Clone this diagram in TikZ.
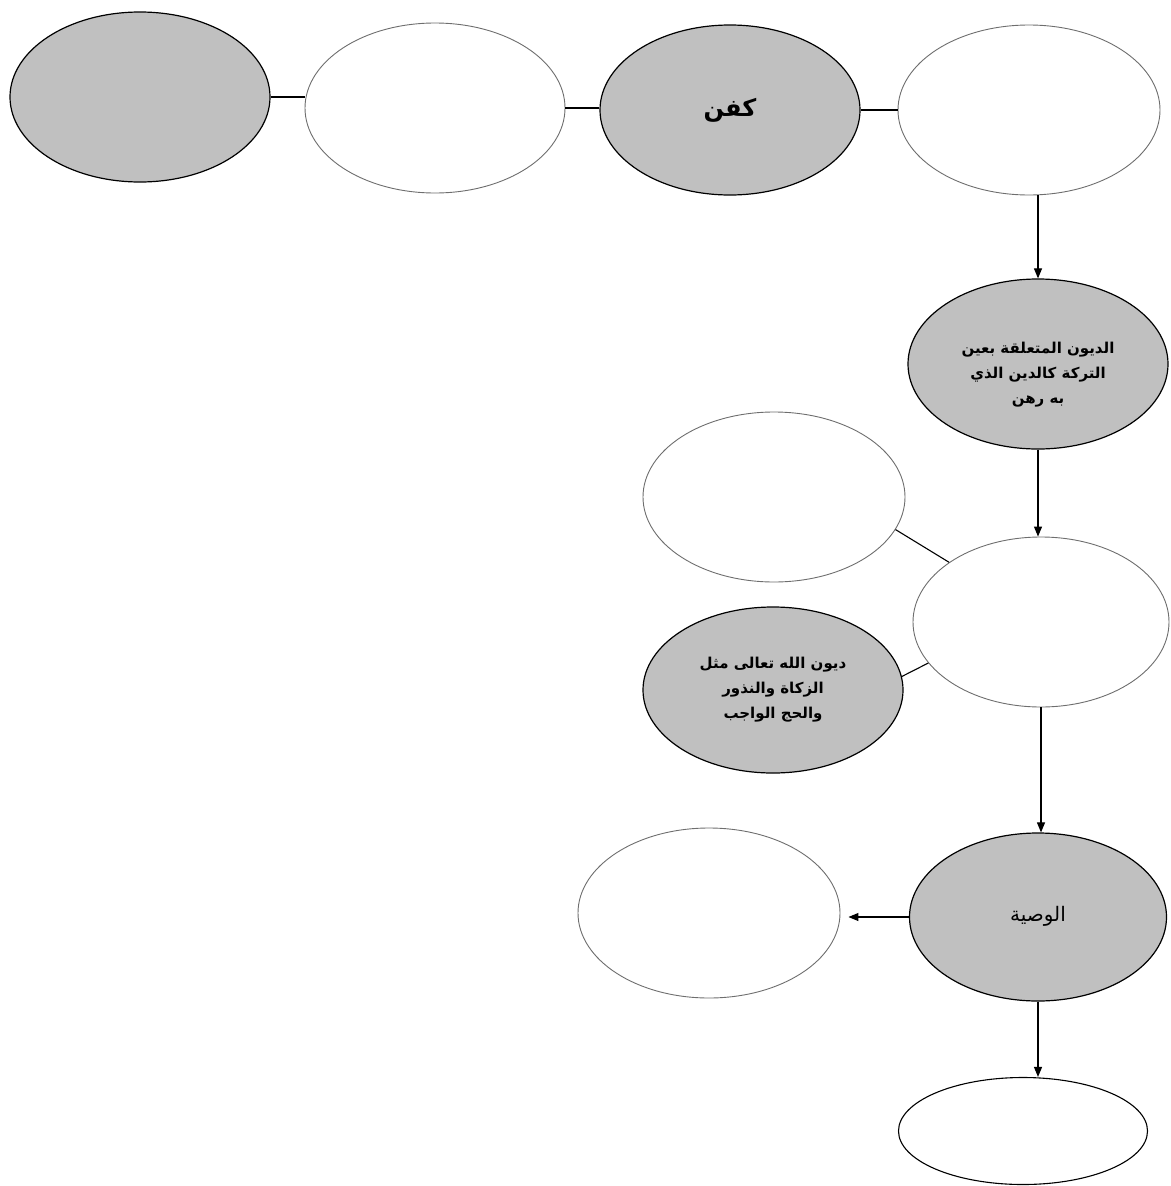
\documentclass[tikz,border=0pt]{standalone}
\usepackage{fontspec}
\newfontfamily\arabicfont[Script=Arabic]{DejaVu Sans}
\TeXXeTstate=1
\usetikzlibrary{shapes.geometric,arrows.meta}
\definecolor{ovalgray}{RGB}{192,192,192}
\definecolor{rimgray}{RGB}{110,110,110}
\tikzset{
  grayoval/.style={ellipse, draw=black, line width=1.2pt, fill=ovalgray, inner sep=0pt},
  whiteoval/.style={ellipse, draw=rimgray, line width=0.9pt, fill=white, inner sep=0pt},
  link/.style={draw=black, line width=1.1pt},
  arr/.style={draw=black, line width=1.1pt, -{Triangle[length=10pt,width=8pt]}},
  artext/.style={font=\arabicfont\bfseries\fontsize{15}{25}\selectfont, align=center, text=black}
}
\begin{document}
\begin{tikzpicture}[x=1pt,y=-1pt]
\useasboundingbox (0,0) rectangle (1170,1186);
% top row
\node[grayoval, minimum width=260pt, minimum height=170pt] (E1) at (140,97) {};
\node[whiteoval, minimum width=260pt, minimum height=170pt] (E2) at (435,108) {};
\node[grayoval, minimum width=260pt, minimum height=170pt, font=\arabicfont\bfseries\fontsize{24}{28}\selectfont] (E3) at (730,110) {\raisebox{6pt}{\beginR كفن\endR}};
\node[whiteoval, minimum width=262pt, minimum height=170pt] (E4) at (1029,110) {};
% right column
\node[grayoval, minimum width=260pt, minimum height=170pt, artext] (E5) at (1038,364) {\rule{0pt}{32pt}\beginR الديون المتعلقة بعين\endR\\\beginR التركة كالدين الذي\endR\\\beginR به رهن\endR};
\node[whiteoval, minimum width=256pt, minimum height=170pt] (E6) at (1041,622) {};
\node[whiteoval, minimum width=262pt, minimum height=170pt] (E7) at (774,497) {};
\node[grayoval, minimum width=260pt, minimum height=166pt, artext] (E8) at (773,690) {\beginR ديون الله تعالى مثل\endR\\\beginR الزكاة والنذور\endR\\\beginR والحج الواجب\endR};
\node[grayoval, minimum width=257pt, minimum height=168pt, font=\arabicfont\fontsize{20}{24}\selectfont] (E9) at (1038,917) {\raisebox{6pt}{\beginR الوصية\endR}};
\node[whiteoval, minimum width=262pt, minimum height=170pt] (E10) at (709,913) {};
\node[grayoval, fill=white, line width=1.1pt, minimum width=249pt, minimum height=107pt] (E11) at (1023,1131) {};
% connectors
\draw[link] (E1.east) -- (E1.east -| E2.west);
\draw[link] (E2.east) -- (E2.east -| E3.west);
\draw[link] (E3.east) -- (E3.east -| E4.west);
\draw[arr] (E5.north |- E4.south) -- (E5.north);
\draw[arr] (E5.south) -- (E5.south |- E6.north);
\draw[link] (E7.-15) -- (E6.147);
\draw[link] (E8.6) -- (E6.200);
\draw[arr] (E6.south) -- (E6.south |- E9.north);
\draw[arr, shorten >=8pt] (E9.west) -- (E9.west -| E10.east);
\draw[arr] (E9.south) -- (E9.south |- E11.north);
\end{tikzpicture}
\end{document}
